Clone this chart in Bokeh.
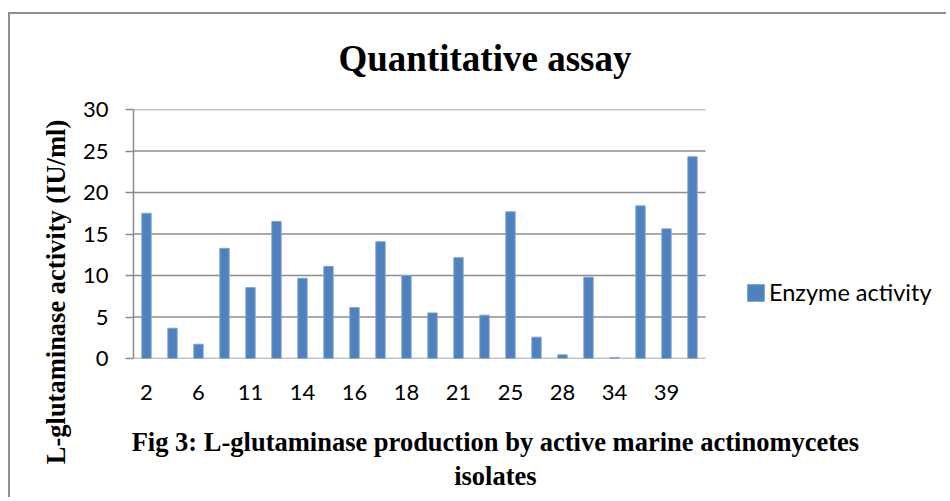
from bokeh.plotting import figure
from bokeh.models import (FixedTicker, Legend, LegendItem, ColumnDataSource, Range1d,
                          Title, LinearAxis)
from bokeh.embed import file_html
from bokeh.resources import INLINE

# Isolate numbers (only every second one is printed on the axis in the source figure)
isolates = ["2", "4", "6", "9", "11", "12", "14", "15", "16", "17", "18",
            "20", "21", "22", "25", "26", "28", "30", "34", "36", "39", "40"]
enzyme_activity = [17.5, 3.65, 1.72, 13.27, 8.54, 16.52, 9.66, 11.1, 6.13, 14.07, 10.0,
                   5.49, 12.15, 5.22, 17.67, 2.57, 0.44, 9.8, 0.12, 18.39, 15.62, 24.3]
shown_labels = ["2", "6", "11", "14", "16", "18", "21", "25", "28", "34", "39"]
y_ticks = [0, 5, 10, 15, 20, 25, 30]

title_text = "Quantitative assay"
y_title = "L-glutaminase activity (IU/ml)"
caption_lines = ["Fig 3: L-glutaminase production by active marine actinomycetes", "isolates"]
series_name = "Enzyme activity"

W, H = 938, 485
n = len(isolates)
idx = list(range(n))
src = ColumnDataSource(dict(x=idx, top=enzyme_activity, name=isolates))

# The plotting frame also covers the legend area on the right; the category band
# itself spans -0.5 .. n-0.5 and the grid lines are drawn only across it.
p = figure(width=W, height=H, output_backend="svg", toolbar_location=None,
           x_range=Range1d(-0.5, -0.5 + n * (W - 123) / 572), y_range=Range1d(0, 30),
           min_border_left=123, min_border_right=0, min_border_top=95,
           min_border_bottom=141)
p.outline_line_color = None
p.background_fill_color = "white"
p.border_fill_color = "white"
p.styles = {"margin-left": "8px", "margin-top": "12px",
            "border-top": "2px solid #8f8f8f", "border-left": "2px solid #8f8f8f"}

GRAY = "#8c8c8c"
SERIF = "Liberation Serif"

p.xgrid.visible = False
p.ygrid.visible = False
p.segment(x0=[-0.5] * len(y_ticks), x1=[n - 0.5] * len(y_ticks), y0=y_ticks, y1=y_ticks,
          line_color=GRAY, line_width=1.5)

bars = p.vbar(x="x", top="top", width=0.36, source=src,
              fill_color="#4F81BD", line_color="#7ea3d3", line_width=1)

# y axis
p.yaxis.ticker = FixedTicker(ticks=y_ticks)
p.yaxis.axis_line_color = GRAY
p.yaxis.axis_line_width = 1.5
p.yaxis.major_tick_line_color = GRAY
p.yaxis.major_tick_line_width = 1.5
p.yaxis.major_tick_out = 8
p.yaxis.major_tick_in = 0
p.yaxis.minor_tick_line_color = None
p.yaxis.major_label_standoff = 17
p.yaxis.major_label_text_font = "Lato"
p.yaxis.major_label_text_font_size = "22px"
p.yaxis.major_label_text_color = "black"

# x axis (its base line is the 0 grid line)
ticks = [i for i, c in enumerate(isolates) if c in shown_labels]
p.xaxis.ticker = FixedTicker(ticks=ticks)
p.xaxis.major_label_overrides = {i: isolates[i] for i in ticks}
p.xaxis.axis_line_color = None
p.xaxis.major_tick_line_color = None
p.xaxis.major_tick_out = 0
p.xaxis.major_tick_in = 0
p.xaxis.minor_tick_line_color = None
p.xaxis.major_label_standoff = 26
p.xaxis.major_label_text_font = "Lato"
p.xaxis.major_label_text_font_size = "22px"
p.xaxis.major_label_text_color = "black"


def label_axis(pos, text, standoff, size, vertical=False):
    """An axis that draws nothing but one tick label (used for free-standing texts)."""
    ax = LinearAxis(ticker=FixedTicker(ticks=[pos]),
                    major_label_overrides={pos: text},
                    axis_line_color=None, major_tick_line_color=None,
                    minor_tick_line_color=None, major_tick_out=0, major_tick_in=0,
                    major_label_standoff=standoff, major_label_text_font=SERIF,
                    major_label_text_font_size=size,
                    major_label_text_font_style="bold",
                    major_label_text_color="black")
    if vertical:
        ax.major_label_orientation = "vertical"
    return ax


# chart title above the plot (a tiny spacer title keeps the gap to the plot area)
p.add_layout(Title(text=" ", text_font_size="1px", standoff=28), "above")
p.add_layout(Title(text=title_text, text_font=SERIF, text_font_size="37px",
                   text_font_style="bold", text_color="black", align="left",
                   offset=205, vertical_align="bottom", standoff=0), "above")

# legend to the right of the bars
legend = Legend(items=[LegendItem(label=series_name, renderers=[bars])],
                location=(612, 52), orientation="vertical",
                border_line_color=None, background_fill_alpha=0,
                padding=0, margin=0, spacing=0,
                glyph_width=21, glyph_height=21, label_standoff=3,
                label_text_font="Lato", label_text_font_size="23.5px",
                label_text_color="black")
p.add_layout(legend, "center")

# y axis title
p.add_layout(label_axis(8.01, y_title, 8, "26.5px", vertical=True), "left")

# figure caption below
caption_x = 13.42
for line, gap in zip(caption_lines, [24, 1]):
    p.add_layout(label_axis(caption_x, line, gap, "26.5px"), "below")

open("out.html", "w").write(file_html(p, INLINE))
